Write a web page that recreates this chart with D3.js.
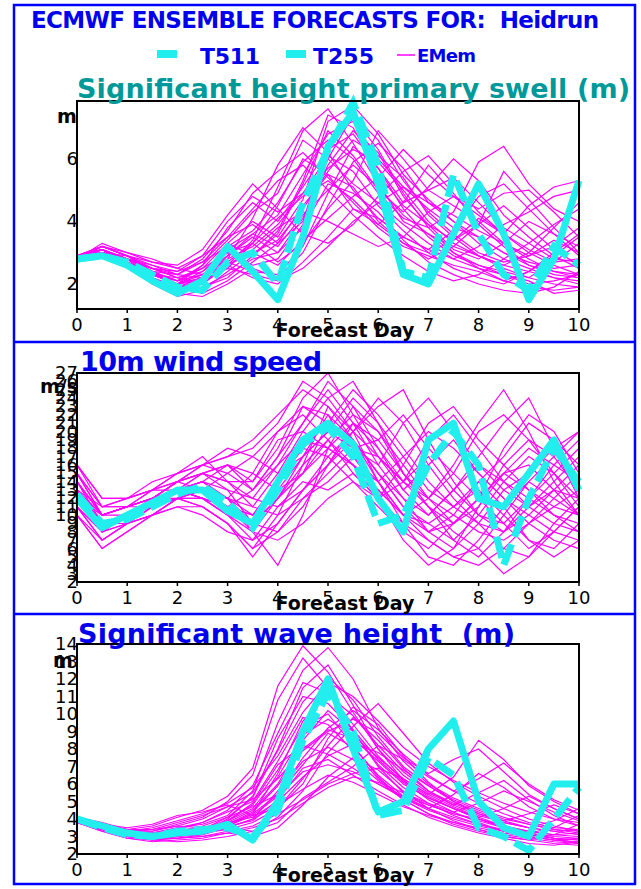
<!DOCTYPE html>
<html lang="en">
<head>
    <meta charset="UTF-8">
    <title>ECMWF ensemble forecasts for Heidrun</title>
    <script src="https://d3js.org/d3.v7.min.js"></script>
    <style>
        body { margin: 0; background: #fff; }
        text { font-family: "DejaVu Sans", sans-serif; white-space: pre; }
        .frame { fill: none; stroke: #0000ff; stroke-width: 2.5; }
        .sep { stroke: #0000ff; stroke-width: 2.5; }
        .plot-box { fill: none; stroke: #000; stroke-width: 2; }
        .member { fill: none; stroke: #ff00ff; stroke-width: 1.2; }
        .t511 { fill: none; stroke: #22eeee; stroke-width: 7; stroke-linejoin: round; }
        .t255 { fill: none; stroke: #22eeee; stroke-width: 7; stroke-dasharray: 22,8; }
        .tick-label { font-size: 18px; fill: #000; }
        .axis-name { font-size: 19px; font-weight: bold; text-anchor: middle; }
        .unit { font-size: 19px; font-weight: bold; }
        .panel-title { font-size: 27px; font-weight: bold; }
    </style>
</head>
<body>
<script>
    // forecast steps (days), every 12 h
    const days = [0, 0.5, 1, 1.5, 2, 2.5, 3, 3.5, 4, 4.5, 5, 5.5, 6, 6.5, 7, 7.5, 8, 8.5, 9, 9.5, 10];
    const xTicks = [0, 1, 2, 3, 4, 5, 6, 7, 8, 9, 10];

    // significant height primary swell (m)
    const swellTicks = [2, 4, 6];
    const swellT511 = [2.8, 2.9, 2.6, 2.1, 1.7, 2.1, 3.2, 2.4, 1.5, 3.5, 6.4, 7.5, 5.2, 2.3, 2.0, 3.6, 5.2, 3.6, 1.5, 2.8, 5.3];
    const swellT255 = [2.8, 2.9, 2.7, 2.3, 1.9, 1.8, 2.7, 3.0, 2.0, 4.6, 6.3, 7.8, 5.8, 2.4, 2.2, 5.5, 3.6, 2.3, 1.8, 3.2, 2.6];
    const swellMembers = [
        [2.9, 3.0, 2.7, 2.3, 2.0, 2.4, 3.1, 3.6, 4.2, 5.5, 6.8, 7.2, 6.0, 5.1, 4.4, 3.8, 3.5, 3.0, 2.7, 2.5, 2.6],
        [2.8, 3.2, 2.9, 2.5, 2.2, 2.0, 2.6, 3.4, 5.1, 6.9, 7.6, 6.5, 5.2, 4.0, 3.6, 3.2, 2.9, 2.6, 2.4, 2.2, 2.0],
        [2.9, 2.9, 2.6, 2.1, 1.8, 1.9, 2.3, 2.8, 3.0, 4.1, 5.8, 6.9, 6.2, 4.8, 3.9, 3.1, 2.8, 3.3, 4.0, 3.6, 3.2],
        [2.8, 3.1, 2.8, 2.4, 2.3, 2.8, 3.7, 4.9, 5.6, 6.2, 5.4, 4.6, 3.8, 3.2, 2.9, 2.6, 2.4, 2.1, 1.9, 1.8, 1.9],
        [2.9, 3.0, 2.7, 2.2, 1.7, 1.6, 2.0, 2.5, 2.2, 3.0, 4.5, 5.9, 6.5, 5.7, 4.6, 4.2, 3.7, 3.3, 2.9, 3.2, 3.8],
        [2.8, 3.3, 3.0, 2.7, 2.6, 3.1, 4.2, 5.2, 4.4, 3.6, 3.3, 3.9, 4.8, 5.6, 6.1, 5.2, 4.3, 3.6, 3.0, 2.6, 2.3],
        [2.9, 3.0, 2.8, 2.6, 2.3, 2.2, 2.8, 3.2, 3.9, 4.9, 6.1, 5.6, 4.5, 3.7, 3.0, 2.5, 2.2, 2.0, 2.4, 2.9, 3.5],
        [2.8, 3.1, 2.7, 2.3, 2.0, 2.2, 2.6, 2.2, 2.0, 2.7, 3.5, 4.4, 4.1, 3.5, 3.1, 3.7, 4.8, 5.2, 4.4, 3.6, 2.9],
        [2.9, 3.2, 2.9, 2.4, 2.1, 2.5, 3.3, 4.0, 3.5, 4.7, 7.2, 7.7, 6.8, 5.5, 4.7, 4.0, 3.3, 2.8, 2.5, 2.2, 2.1],
        [2.8, 2.9, 2.6, 2.0, 1.6, 1.8, 2.4, 3.0, 2.6, 3.4, 4.1, 4.8, 5.4, 6.3, 5.5, 4.8, 4.4, 4.9, 5.0, 4.3, 3.5],
        [2.9, 3.1, 2.8, 2.5, 2.4, 2.7, 3.2, 3.7, 4.6, 5.9, 6.6, 6.0, 4.9, 4.1, 3.8, 4.3, 5.9, 6.4, 5.2, 4.4, 4.0],
        [2.8, 3.0, 2.7, 2.2, 1.9, 2.1, 2.9, 3.5, 3.0, 3.8, 5.2, 4.9, 4.3, 3.4, 2.7, 2.3, 2.0, 1.8, 1.7, 1.9, 2.4],
        [2.9, 3.0, 2.9, 2.7, 2.5, 2.9, 3.5, 4.4, 5.3, 5.8, 5.0, 4.2, 3.5, 2.9, 2.4, 2.1, 2.3, 2.8, 3.3, 3.9, 4.4],
        [2.8, 3.1, 2.6, 2.1, 1.8, 2.0, 2.7, 2.4, 2.3, 3.2, 4.9, 6.4, 5.7, 4.6, 5.0, 5.4, 4.6, 3.8, 3.3, 2.8, 2.7],
        [2.9, 3.2, 3.0, 2.8, 2.5, 2.3, 2.6, 3.1, 3.8, 4.3, 4.0, 3.6, 3.2, 3.5, 4.3, 4.8, 4.2, 3.6, 4.5, 5.1, 5.3],
        [2.8, 3.0, 2.7, 2.3, 2.1, 2.6, 3.8, 4.6, 4.0, 5.1, 6.3, 6.8, 5.7, 4.4, 3.5, 2.9, 2.6, 2.3, 2.1, 1.7, 1.8],
        [2.9, 3.1, 2.8, 2.4, 1.9, 1.7, 2.1, 2.7, 3.3, 4.5, 5.5, 5.1, 4.0, 3.3, 2.8, 3.2, 3.9, 4.5, 3.8, 3.1, 2.6],
        [2.8, 3.0, 2.6, 2.3, 2.2, 2.5, 3.0, 2.6, 2.8, 3.9, 6.0, 7.4, 6.6, 5.3, 4.3, 3.6, 3.0, 2.7, 2.9, 3.4, 3.0],
        [2.9, 3.1, 2.8, 2.2, 1.8, 2.1, 2.5, 3.3, 4.5, 6.0, 5.5, 4.4, 3.9, 4.6, 5.8, 4.9, 3.9, 3.2, 2.6, 2.3, 2.2],
        [2.8, 3.0, 2.7, 2.4, 2.0, 2.3, 2.9, 3.6, 3.2, 4.2, 5.0, 5.8, 5.1, 4.2, 3.6, 3.0, 2.6, 2.4, 2.2, 2.7, 3.3],
        [2.9, 3.1, 2.8, 2.4, 2.1, 2.3, 2.8, 4.1, 5.8, 7.0, 6.2, 5.0, 4.1, 3.5, 3.1, 2.8, 2.5, 2.3, 2.0, 2.1, 2.3],
        [2.8, 3.0, 2.6, 2.2, 1.9, 2.2, 3.3, 2.9, 3.6, 5.2, 6.9, 6.1, 5.0, 4.3, 5.1, 6.0, 5.3, 4.2, 3.5, 2.9, 2.5],
        [2.9, 3.2, 2.9, 2.6, 2.4, 2.9, 4.0, 4.8, 4.3, 4.9, 5.7, 6.3, 5.9, 5.0, 4.0, 3.3, 2.9, 2.6, 3.0, 3.8, 4.6],
        [2.8, 3.0, 2.7, 2.2, 1.7, 1.9, 2.2, 2.9, 3.7, 5.3, 7.4, 7.0, 5.5, 4.5, 3.9, 3.4, 3.9, 5.6, 4.7, 3.8, 3.0],
        [2.9, 3.1, 2.8, 2.5, 2.2, 2.4, 3.0, 3.3, 2.7, 3.3, 4.4, 5.3, 6.9, 6.0, 5.0, 4.5, 4.0, 3.3, 2.8, 2.4, 2.3],
        [2.8, 3.0, 2.7, 2.3, 2.0, 2.6, 3.4, 4.3, 4.9, 6.6, 6.0, 5.2, 4.6, 3.9, 3.3, 2.8, 3.2, 3.9, 4.3, 4.8, 5.0],
        [2.9, 3.1, 2.8, 2.4, 1.9, 2.0, 2.6, 3.0, 3.4, 4.4, 5.6, 6.6, 6.1, 5.4, 4.2, 3.5, 2.9, 2.5, 2.2, 2.0, 1.9],
        [2.8, 3.1, 2.7, 2.3, 2.0, 2.2, 2.7, 3.3, 4.1, 4.8, 5.3, 4.7, 3.9, 3.3, 3.0, 3.4, 4.1, 3.6, 3.1, 2.7, 2.8],
        [2.9, 3.0, 2.8, 2.5, 2.3, 2.7, 3.5, 3.9, 3.3, 4.0, 6.5, 7.3, 6.3, 4.9, 3.8, 3.0, 2.5, 2.1, 2.4, 3.0, 3.6],
        [2.8, 3.2, 2.9, 2.4, 2.0, 2.1, 2.5, 2.3, 2.1, 2.5, 3.2, 4.0, 4.6, 5.1, 4.6, 4.0, 3.5, 3.0, 2.6, 2.4, 2.2]
    ];

    // 10m wind speed (m/s)
    const windTicks = [2, 3, 4, 5, 6, 7, 8, 9, 10, 11, 12, 13, 14, 15, 16, 17, 18, 19, 20, 21, 22, 23, 24, 25, 26, 27];
    const windT511 = [12, 8.5, 10, 11.5, 13, 13, 10.5, 9, 14, 19, 21, 18.5, 12, 8, 19, 21, 12, 11, 15, 19, 13];
    const windT255 = [12.5, 9, 9.5, 11, 12.5, 13.5, 11.5, 8.5, 13, 18.5, 20.5, 17, 9, 10, 16, 20, 16, 4, 12, 18, 14];
    const windMembers = [
        [12, 9, 10, 11, 13, 14, 12, 10, 14, 18, 21, 19, 15, 12, 10, 13, 16, 14, 12, 10, 9],
        [14, 10, 11, 12, 12, 13, 15, 17, 20, 23, 22, 17, 13, 10, 8, 9, 12, 15, 18, 16, 14],
        [11, 7, 9, 11, 13, 12, 10, 8, 12, 16, 19, 22, 20, 16, 12, 10, 8, 7, 9, 12, 15],
        [15, 11, 12, 13, 14, 15, 16, 15, 13, 15, 18, 16, 14, 17, 20, 18, 15, 12, 10, 8, 7],
        [10, 6, 8, 10, 12, 11, 9, 5, 9, 13, 17, 20, 24, 21, 16, 12, 9, 6, 5, 8, 11],
        [13, 9, 10, 12, 14, 16, 17, 19, 22, 25, 23, 19, 15, 11, 9, 7, 10, 14, 17, 15, 12],
        [12, 8, 10, 11, 12, 13, 12, 11, 10, 12, 15, 18, 17, 14, 19, 22, 18, 14, 11, 13, 16],
        [16, 12, 12, 13, 15, 17, 14, 11, 15, 20, 24, 26, 21, 17, 13, 11, 9, 8, 10, 13, 12],
        [11, 8, 9, 10, 11, 10, 8, 7, 11, 14, 13, 15, 12, 9, 7, 5, 4, 6, 9, 11, 13],
        [14, 10, 11, 12, 13, 12, 11, 13, 17, 21, 26, 23, 18, 14, 12, 15, 20, 22, 19, 15, 11],
        [12, 9, 10, 12, 14, 15, 13, 9, 8, 11, 16, 21, 19, 15, 11, 8, 6, 3, 5, 9, 12],
        [13, 11, 11, 12, 13, 14, 16, 14, 18, 24, 27, 22, 17, 13, 16, 19, 15, 12, 9, 7, 6],
        [15, 10, 11, 13, 13, 12, 11, 10, 13, 17, 20, 18, 16, 21, 24, 20, 16, 13, 15, 18, 20],
        [10, 7, 9, 10, 12, 13, 11, 8, 7, 9, 12, 14, 11, 8, 6, 9, 12, 15, 13, 10, 8],
        [12, 10, 11, 11, 13, 15, 14, 12, 16, 19, 18, 16, 13, 10, 9, 11, 14, 17, 21, 19, 16],
        [14, 9, 10, 12, 14, 13, 12, 15, 20, 22, 19, 15, 12, 14, 17, 13, 10, 8, 11, 14, 17],
        [11, 8, 10, 11, 12, 12, 10, 9, 12, 15, 21, 25, 22, 18, 14, 11, 13, 10, 7, 6, 9],
        [13, 10, 10, 12, 13, 14, 13, 12, 11, 13, 16, 19, 14, 10, 12, 16, 21, 25, 20, 14, 10],
        [16, 12, 12, 14, 15, 16, 18, 17, 15, 17, 20, 24, 21, 15, 11, 7, 5, 8, 12, 16, 19],
        [12, 8, 9, 11, 12, 11, 9, 6, 10, 16, 23, 20, 14, 9, 5, 4, 7, 11, 14, 12, 10],
        [13, 9, 10, 12, 13, 13, 12, 8, 4, 10, 18, 23, 20, 15, 12, 9, 11, 16, 19, 17, 13],
        [15, 11, 12, 13, 15, 16, 15, 13, 16, 21, 25, 21, 16, 12, 8, 6, 9, 13, 11, 9, 8],
        [11, 7, 9, 10, 12, 12, 11, 10, 14, 18, 17, 14, 12, 16, 21, 23, 19, 16, 13, 11, 10],
        [14, 10, 11, 12, 13, 14, 12, 9, 12, 17, 22, 19, 15, 11, 8, 10, 14, 11, 7, 5, 7],
        [12, 8, 10, 11, 13, 12, 10, 7, 9, 13, 16, 20, 23, 25, 19, 14, 10, 9, 12, 15, 18],
        [16, 11, 11, 13, 14, 16, 17, 18, 21, 26, 24, 20, 17, 14, 11, 9, 12, 18, 22, 20, 15],
        [10, 6, 8, 10, 11, 11, 9, 6, 8, 12, 14, 17, 14, 10, 7, 5, 6, 10, 14, 17, 20],
        [13, 10, 11, 12, 14, 15, 14, 14, 19, 20, 18, 21, 18, 13, 10, 13, 17, 21, 24, 18, 12],
        [12, 9, 9, 11, 12, 13, 11, 9, 12, 15, 19, 16, 12, 7, 4, 6, 11, 15, 16, 13, 10],
        [15, 10, 11, 12, 13, 15, 16, 13, 17, 23, 21, 18, 19, 22, 18, 15, 12, 9, 6, 8, 11]
    ];

    // significant wave height (m)
    const waveTicks = [2, 3, 4, 5, 6, 7, 8, 9, 10, 11, 12, 13, 14];
    const waveT511 = [4.0, 3.6, 3.2, 3.0, 3.2, 3.3, 3.7, 2.8, 5.0, 9.0, 12.0, 8.0, 4.4, 5.0, 8.0, 9.6, 5.0, 3.5, 3.0, 6.0, 6.0];
    const waveT255 = [4.0, 3.5, 3.1, 3.0, 3.3, 3.4, 3.5, 3.0, 4.5, 8.5, 11.2, 9.0, 4.2, 4.5, 7.5, 6.5, 3.5, 3.0, 2.2, 4.0, 5.8];
    const waveMembers = [
        [4.0, 3.6, 3.3, 3.4, 3.6, 3.5, 3.8, 4.5, 6.0, 8.5, 10.2, 9.0, 7.0, 5.5, 4.8, 4.3, 4.0, 3.6, 3.3, 3.1, 3.2],
        [3.9, 3.4, 3.0, 2.9, 3.0, 3.3, 4.0, 5.3, 8.0, 11.5, 12.8, 10.5, 8.0, 6.2, 5.1, 4.4, 3.8, 3.3, 3.0, 2.8, 2.7],
        [4.1, 3.7, 3.5, 3.7, 4.2, 4.4, 4.8, 4.2, 4.6, 6.3, 8.2, 9.8, 8.5, 6.9, 5.6, 4.8, 5.5, 6.2, 5.1, 4.2, 3.6],
        [3.8, 3.3, 2.9, 2.7, 2.8, 2.9, 3.2, 3.0, 3.5, 4.8, 6.4, 7.5, 6.8, 5.6, 4.6, 3.9, 3.4, 3.0, 2.8, 3.1, 3.7],
        [4.0, 3.5, 3.1, 3.2, 3.5, 3.7, 4.2, 5.6, 9.5, 12.5, 13.8, 12.0, 9.2, 7.3, 6.0, 5.2, 4.6, 4.1, 3.7, 3.4, 3.2],
        [3.9, 3.5, 3.2, 3.1, 3.3, 3.6, 4.1, 4.7, 5.4, 7.1, 8.9, 8.1, 6.5, 5.3, 4.6, 5.4, 6.6, 5.8, 4.7, 4.0, 3.6],
        [4.1, 3.8, 3.4, 3.3, 3.7, 4.1, 5.0, 6.5, 10.8, 13.2, 11.5, 9.0, 7.1, 5.8, 4.9, 4.2, 3.7, 3.3, 3.0, 2.8, 2.9],
        [3.8, 3.4, 3.0, 2.8, 2.7, 2.8, 3.0, 3.3, 4.1, 5.6, 7.8, 9.3, 10.6, 8.9, 7.2, 6.1, 5.3, 4.6, 4.0, 3.6, 3.3],
        [4.0, 3.6, 3.2, 3.0, 3.2, 3.4, 3.6, 3.9, 5.1, 6.9, 7.4, 6.5, 5.6, 4.8, 4.1, 3.6, 3.2, 2.9, 2.6, 2.5, 2.7],
        [3.9, 3.5, 3.3, 3.5, 3.9, 4.3, 4.9, 5.8, 7.6, 10.1, 11.8, 11.0, 9.6, 8.1, 7.0, 6.2, 5.5, 4.9, 4.4, 4.0, 3.8],
        [4.1, 3.7, 3.3, 3.1, 3.0, 3.2, 3.5, 3.3, 3.8, 5.2, 6.1, 7.0, 8.2, 7.4, 6.4, 5.6, 6.3, 7.2, 6.0, 5.1, 4.5],
        [3.8, 3.3, 2.9, 2.8, 3.0, 3.3, 3.9, 4.8, 6.8, 9.3, 10.0, 8.2, 6.4, 5.1, 4.3, 3.7, 3.3, 3.0, 2.8, 2.6, 2.5],
        [4.0, 3.6, 3.2, 3.0, 3.1, 3.2, 3.4, 3.8, 4.6, 6.0, 8.6, 10.4, 9.4, 7.6, 6.1, 5.0, 4.3, 3.8, 3.5, 3.9, 4.6],
        [3.9, 3.5, 3.1, 2.9, 2.9, 3.1, 3.7, 4.4, 5.9, 8.0, 9.1, 8.6, 7.3, 6.0, 5.2, 4.6, 4.0, 3.5, 3.2, 3.0, 2.9],
        [4.1, 3.7, 3.4, 3.6, 4.1, 4.5, 5.3, 6.9, 11.6, 13.9, 12.4, 10.1, 8.0, 6.5, 5.5, 4.8, 4.2, 3.8, 3.5, 3.3, 3.1],
        [3.8, 3.4, 3.0, 2.8, 2.9, 3.0, 3.3, 3.6, 4.3, 5.1, 6.0, 6.6, 6.9, 6.3, 5.4, 6.4, 8.5, 7.4, 5.9, 5.0, 4.3],
        [4.0, 3.5, 3.2, 3.1, 3.4, 3.8, 4.4, 5.0, 7.3, 9.8, 9.4, 7.9, 6.3, 5.2, 4.5, 4.0, 3.6, 3.3, 3.1, 2.9, 2.8],
        [3.9, 3.6, 3.3, 3.2, 3.3, 3.5, 3.8, 4.1, 5.0, 6.4, 7.6, 8.3, 7.8, 6.8, 5.9, 5.1, 4.5, 4.0, 3.7, 3.4, 3.3],
        [4.0, 3.4, 3.0, 2.9, 3.1, 3.4, 4.1, 5.2, 8.6, 11.0, 10.6, 9.1, 7.4, 6.1, 5.2, 4.6, 4.1, 4.6, 5.3, 4.6, 4.0],
        [3.8, 3.5, 3.1, 2.9, 3.0, 3.1, 3.5, 4.0, 4.8, 5.7, 6.5, 6.1, 5.4, 4.7, 4.2, 3.8, 3.5, 3.2, 3.0, 2.8, 2.6],
        [4.0, 3.6, 3.2, 3.1, 3.3, 3.5, 3.9, 4.6, 6.4, 8.8, 9.7, 8.8, 7.5, 6.3, 5.4, 4.7, 4.1, 3.6, 3.3, 3.1, 3.0],
        [3.9, 3.5, 3.1, 3.0, 3.1, 3.3, 3.7, 4.3, 5.4, 7.5, 9.2, 10.2, 9.1, 7.7, 6.5, 5.6, 4.9, 4.3, 3.8, 3.5, 3.4],
        [4.1, 3.6, 3.3, 3.2, 3.5, 3.8, 4.5, 5.9, 8.9, 11.8, 11.2, 9.4, 7.6, 6.2, 5.3, 4.6, 4.0, 3.6, 3.2, 2.9, 2.6],
        [3.8, 3.4, 3.0, 2.8, 2.9, 3.0, 3.2, 3.5, 4.0, 4.9, 5.8, 6.4, 6.1, 5.5, 4.9, 4.4, 4.9, 5.6, 5.0, 4.4, 3.9],
        [4.0, 3.6, 3.3, 3.3, 3.6, 4.0, 4.7, 5.5, 7.9, 10.7, 12.1, 10.8, 8.7, 7.0, 5.9, 5.0, 4.4, 3.9, 3.5, 3.3, 3.4],
        [3.9, 3.5, 3.2, 3.0, 3.1, 3.2, 3.6, 4.2, 5.3, 6.7, 7.1, 6.7, 6.0, 5.3, 4.8, 4.3, 3.9, 3.5, 3.2, 3.5, 4.2],
        [4.1, 3.7, 3.4, 3.4, 3.8, 4.2, 4.7, 5.1, 6.3, 7.9, 9.0, 9.7, 8.9, 7.5, 6.6, 7.4, 8.0, 6.7, 5.4, 4.6, 4.0],
        [3.8, 3.4, 3.0, 2.9, 3.0, 3.2, 3.5, 4.0, 5.6, 7.3, 8.1, 7.4, 6.2, 5.1, 4.3, 3.8, 3.4, 3.1, 2.9, 2.7, 2.6],
        [4.0, 3.5, 3.2, 3.1, 3.2, 3.3, 3.6, 4.3, 6.6, 9.6, 11.1, 9.9, 8.2, 6.7, 5.6, 4.9, 4.3, 3.9, 4.3, 4.8, 4.3],
        [3.9, 3.6, 3.2, 3.0, 3.2, 3.4, 3.9, 4.9, 7.1, 8.2, 7.7, 6.9, 6.0, 5.2, 4.6, 4.1, 3.7, 3.4, 3.1, 2.9, 2.8]
    ];

    const svg = d3.select('body').append('svg')
        .attr('width', 641)
        .attr('height', 889);

    const xScale = d3.scaleLinear().domain([0, 10]).range([77, 579]);

    // outer frame and panel separators
    svg.append('rect').attr('class', 'frame')
        .attr('x', 14).attr('y', 5).attr('width', 621).attr('height', 879);
    svg.append('line').attr('class', 'sep').attr('x1', 14).attr('x2', 635).attr('y1', 342).attr('y2', 342);
    svg.append('line').attr('class', 'sep').attr('x1', 14).attr('x2', 635).attr('y1', 614).attr('y2', 614);

    // header + legend
    svg.append('text')
        .attr('x', 31).attr('y', 28)
        .attr('textLength', 568)
        .style('font-size', '23px').style('font-weight', 'bold').style('fill', '#0000ee')
        .text('ECMWF ENSEMBLE FORECASTS FOR:  Heidrun');

    const legend = svg.append('g');
    legend.append('rect').attr('x', 157).attr('y', 50).attr('width', 20).attr('height', 8).attr('fill', '#22eeee');
    legend.append('text').attr('x', 200).attr('y', 64).attr('textLength', 60)
        .style('font-size', '22px').style('font-weight', 'bold').style('fill', '#0000ee').text('T511');
    legend.append('rect').attr('x', 286).attr('y', 50).attr('width', 20).attr('height', 8).attr('fill', '#22eeee');
    legend.append('text').attr('x', 313).attr('y', 64).attr('textLength', 61)
        .style('font-size', '22px').style('font-weight', 'bold').style('fill', '#0000ee').text('T255');
    legend.append('line').attr('x1', 397).attr('x2', 415).attr('y1', 55).attr('y2', 55)
        .attr('stroke', '#ff00ff').attr('stroke-width', 1.5);
    legend.append('text').attr('x', 417).attr('y', 62).attr('textLength', 59)
        .style('font-size', '18px').style('font-weight', 'bold').style('fill', '#0000ee').text('EMem');

    function drawPanel(p) {
        const g = svg.append('g');
        const yScale = d3.scaleLinear().domain(p.domain).range([p.bottom, p.top]);

        const line = d3.line()
            .x((d, i) => xScale(days[i]))
            .y(d => yScale(d));

        g.selectAll('.member')
            .data(p.members)
            .enter().append('path')
            .attr('class', 'member')
            .attr('d', line);

        g.append('path').datum(p.t255).attr('class', 't255').attr('d', line);
        g.append('path').datum(p.t511).attr('class', 't511').attr('d', line);

        g.append('rect').attr('class', 'plot-box')
            .attr('x', xScale(0)).attr('y', p.top)
            .attr('width', xScale(10) - xScale(0)).attr('height', p.bottom - p.top);

        // x axis ticks + labels
        g.selectAll('.xtick')
            .data(xTicks)
            .enter().append('line')
            .attr('x1', d => xScale(d)).attr('x2', d => xScale(d))
            .attr('y1', p.bottom).attr('y2', p.bottom + 4)
            .attr('stroke', '#000').attr('stroke-width', 1.5);
        g.selectAll('.xlab')
            .data(xTicks)
            .enter().append('text')
            .attr('class', 'tick-label')
            .attr('text-anchor', 'middle')
            .attr('x', d => xScale(d))
            .attr('y', p.bottom + 22)
            .text(d => d);

        // y labels (they pile up on the wind panel, same as the original)
        g.selectAll('.ylab')
            .data(p.ticks)
            .enter().append('text')
            .attr('class', 'tick-label')
            .attr('text-anchor', 'end')
            .attr('x', xScale(0) + 1)
            .attr('y', d => yScale(d) + 6)
            .text(d => d);

        g.append('text').attr('class', 'axis-name')
            .attr('x', 345).attr('y', p.bottom + 28)
            .text('Forecast Day');

        g.append('text').attr('class', 'unit')
            .attr('x', p.unitX).attr('y', p.unitY)
            .text(p.unit);

        g.append('text').attr('class', 'panel-title')
            .attr('x', p.titleX).attr('y', p.titleY)
            .attr('textLength', p.titleLen)
            .style('fill', p.titleColor)
            .text(p.title);
    }

    drawPanel({
        top: 101, bottom: 309, domain: [1.2, 7.85],
        members: swellMembers, t511: swellT511, t255: swellT255, ticks: swellTicks,
        unit: 'm', unitX: 57, unitY: 123,
        title: 'Significant height primary swell (m)', titleX: 77, titleY: 98, titleLen: 553, titleColor: '#009999'
    });
    drawPanel({
        top: 373, bottom: 582, domain: [2, 27],
        members: windMembers, t511: windT511, t255: windT255, ticks: windTicks,
        unit: 'm/s', unitX: 40, unitY: 393,
        title: '10m wind speed', titleX: 80, titleY: 371, titleLen: 242, titleColor: '#0000ee'
    });
    drawPanel({
        top: 644, bottom: 854, domain: [2, 14],
        members: waveMembers, t511: waveT511, t255: waveT255, ticks: waveTicks,
        unit: 'm', unitX: 53, unitY: 667,
        title: 'Significant wave height  (m)', titleX: 78, titleY: 643, titleLen: 437, titleColor: '#0000ee'
    });
</script>
</body>
</html>
